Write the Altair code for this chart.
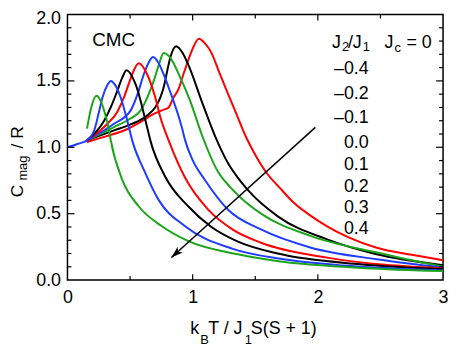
import altair as alt
import pandas as pd

# ---- data ----
labels = ["–0.4", "–0.2", "–0.1", "0.0", "0.1", "0.2", "0.3", "0.4"]
colors = ["#ff0000", "#000000", "#1aa51a", "#1e3cff", "#ff0000", "#000000", "#1e3cff", "#1aa51a"]

x_m04 = [0.156,0.30,0.465,0.60,0.689,0.76,0.808,0.847,0.887,0.926,0.953,0.992,1.05,1.10,1.15,1.21,1.283,1.35,1.415,1.48,1.584,1.70,1.81,1.95,2.074,2.25,2.47,2.75,3.0]
y_m04 = [1.04,1.08,1.132,1.20,1.251,1.28,1.30,1.375,1.438,1.55,1.624,1.724,1.818,1.78,1.711,1.57,1.40,1.25,1.10,0.978,0.816,0.69,0.58,0.48,0.405,0.32,0.244,0.19,0.149]

x_m02 = [0.156,0.372,0.50,0.636,0.70,0.74,0.768,0.80,0.821,0.868,0.92,0.966,1.071,1.19,1.283,1.362,1.44,1.68,2.074,2.47,3.0]
y_m02 = [1.052,1.127,1.17,1.239,1.30,1.37,1.45,1.59,1.674,1.761,1.71,1.62,1.35,1.06,0.88,0.77,0.679,0.48,0.306,0.194,0.112]

x_m01 = [0.156,0.372,0.50,0.583,0.64,0.689,0.73,0.768,0.808,0.913,0.98,1.071,1.20,1.30,1.42,1.546,1.946,2.47,3.0]
y_m01 = [1.052,1.152,1.215,1.276,1.38,1.50,1.62,1.71,1.69,1.50,1.35,1.10,0.82,0.70,0.59,0.50,0.331,0.207,0.10]

x_p00 = [0.156,0.372,0.504,0.56,0.61,0.65,0.683,0.73,0.768,0.808,0.913,0.94,1.0,1.098,1.283,1.546,1.946,2.47,3.0]
y_p00 = [1.052,1.177,1.276,1.40,1.55,1.64,1.679,1.63,1.55,1.45,1.152,1.052,0.903,0.754,0.53,0.381,0.244,0.157,0.095]

x_p01 = [0.156,0.319,0.40,0.451,0.49,0.517,0.57,0.636,0.70,0.742,0.808,0.94,1.124,1.32,1.546,2.074,3.0]
y_p01 = [1.052,1.177,1.27,1.375,1.48,1.55,1.632,1.55,1.38,1.226,1.052,0.77,0.530,0.38,0.281,0.169,0.088]

x_p02 = [0.156,0.293,0.35,0.398,0.44,0.472,0.544,0.636,0.662,0.781,0.966,1.15,1.362,1.68,2.34,3.0]
y_p02 = [1.052,1.20,1.31,1.425,1.53,1.58,1.475,1.152,1.052,0.778,0.554,0.40,0.29,0.20,0.119,0.082]

x_p03 = [0.0,0.08,0.156,0.214,0.25,0.28,0.32,0.346,0.38,0.425,0.47,0.517,0.623,0.728,0.94,1.32,1.7,2.2,2.6,3.0]
y_p03 = [1.0,1.025,1.052,1.127,1.26,1.375,1.47,1.50,1.47,1.375,1.23,1.052,0.804,0.604,0.405,0.235,0.16,0.11,0.088,0.072]

x_p04 = [0.156,0.19,0.232,0.26,0.293,0.33,0.346,0.438,0.570,0.755,0.966,1.362,1.7,2.2,2.6,3.0]
y_p04 = [1.14,1.30,1.388,1.36,1.276,1.14,1.052,0.754,0.554,0.405,0.293,0.194,0.14,0.10,0.08,0.068]

arrow_x = [1.98, 0.83]
arrow_y = [1.15, 0.17]

x_major = [1, 2]
x_minor = [0.5, 1.5, 2.5]
y_major = [0.5, 1.0, 1.5]
y_minor = [0.1, 0.2, 0.3, 0.4, 0.6, 0.7, 0.8, 0.9, 1.1, 1.2, 1.3, 1.4, 1.6, 1.7, 1.8, 1.9]

# ---- build table ----
xs = [x_m04, x_m02, x_m01, x_p00, x_p01, x_p02, x_p03, x_p04]
ys = [y_m04, y_m02, y_m01, y_p00, y_p01, y_p02, y_p03, y_p04]
rows = []
for lab, xv, yv in zip(labels, xs, ys):
    for i, (a, b) in enumerate(zip(xv, yv)):
        rows.append({"series": lab, "x": a, "y": b, "i": i})
df = pd.DataFrame(rows)

W, H = 379, 268
FONT = "Liberation Sans"

xscale = alt.Scale(domain=[0, 3], nice=False)
yscale = alt.Scale(domain=[0, 2], nice=False)

base_axes = alt.Chart(df).mark_line(strokeWidth=2, interpolate="monotone").encode(
    x=alt.X("x:Q", scale=xscale,
            axis=alt.Axis(values=[0, 1, 2, 3], format="d", tickSize=0, domain=False, grid=False,
                          labelFontSize=18, labelFont=FONT, labelColor="black", labelPadding=9,
                          labelFlush=False, title=None)),
    y=alt.Y("y:Q", scale=yscale,
            axis=alt.Axis(values=[0, 0.5, 1.0, 1.5, 2.0], format=".1f", tickSize=0, domain=False,
                          grid=False, labelFontSize=18, labelFont=FONT, labelColor="black",
                          labelPadding=7, labelFlush=False, title=None,
                          labelOffset={"condition": {"test": "datum.value == 2", "value": 4}, "value": 0})),
    color=alt.Color("series:N", scale=alt.Scale(domain=labels, range=colors), legend=None),
    detail="series:N",
    order="i:Q",
)

layers = [base_axes]

# inward ticks
def tick_layer(vals, field, side, length):
    d = pd.DataFrame({field: vals})
    if field == "tx":
        if side == "bottom":
            enc = dict(y=alt.value(H), y2=alt.value(H - length))
        else:
            enc = dict(y=alt.value(0), y2=alt.value(length))
        return alt.Chart(d).mark_rule(color="black", strokeWidth=1.2).encode(
            x=alt.X("tx:Q", scale=xscale), **enc)
    else:
        if side == "left":
            enc = dict(x=alt.value(0), x2=alt.value(length))
        else:
            enc = dict(x=alt.value(W), x2=alt.value(W - length))
        return alt.Chart(d).mark_rule(color="black", strokeWidth=1.2).encode(
            y=alt.Y("ty:Q", scale=yscale), **enc)

for side in ["bottom", "top"]:
    layers.append(tick_layer(x_major, "tx", side, 6))
    layers.append(tick_layer(x_minor, "tx", side, 4))
for side in ["left", "right"]:
    layers.append(tick_layer(y_major, "ty", side, 7))
    layers.append(tick_layer(y_minor, "ty", side, 4))

# arrow
adf = pd.DataFrame({"x": arrow_x, "y": arrow_y, "i": [0, 1]})
layers.append(alt.Chart(adf).mark_line(color="black", strokeWidth=1.5).encode(
    x=alt.X("x:Q", scale=xscale), y=alt.Y("y:Q", scale=yscale), order="i:Q"))
layers.append(alt.Chart(adf.iloc[[1]]).mark_point(
    shape="M0,0L0.55,1.7L0,1.25L-0.55,1.7Z", filled=True, color="black", opacity=1,
    size=200, angle=228, strokeWidth=0).encode(
    x=alt.X("x:Q", scale=xscale), y=alt.Y("y:Q", scale=yscale)))

# text annotations
def txt(s, x, y, size=18, align="left", baseline="alphabetic", angle=0):
    return alt.Chart(pd.DataFrame({"t": [s]})).mark_text(
        text=s, font=FONT, fontSize=size, color="black", align=align, baseline=baseline,
        angle=angle).encode(x=alt.value(x), y=alt.value(y))

layers.append(txt("CMC", 25, 32, size=19))

# legend header  J2/J1   Jc = 0
layers += [
    txt("J", 267, 34), txt("2", 277, 37, size=13), txt("/J", 283, 34), txt("1", 298, 37, size=13),
    txt("J", 320, 34), txt("c", 330, 38, size=13), txt("= 0", 342, 34),
]
baselines = [60, 85, 110, 135, 157, 179, 200, 222]
for lab, b in zip(labels, baselines):
    layers.append(txt(lab, 304, b, align="right"))

# x-axis title
layers += [
    txt("k", 124, 322), txt("B", 134, 332, size=13), txt("T / J", 142, 322),
    txt("1", 179, 332, size=13), txt("S(S + 1)", 185, 322),
]
# y-axis title (rotated)
layers += [
    txt("C", -50, 178, size=17.5, angle=270, align="center", baseline="middle"),
    txt("mag", -45, 155, size=13, angle=270, align="center", baseline="middle"),
    txt("/ R", -50, 124, size=17.5, angle=270, align="center", baseline="middle"),
]

chart = alt.layer(*layers).properties(
    width=W, height=H,
    autosize=alt.AutoSizeParams(type="none"),
    padding={"left": 60, "top": 5, "right": 6, "bottom": 68},
).configure_view(stroke="black", strokeWidth=1.5)

chart.save("out.html", embed_options={"renderer": "svg", "actions": False})
